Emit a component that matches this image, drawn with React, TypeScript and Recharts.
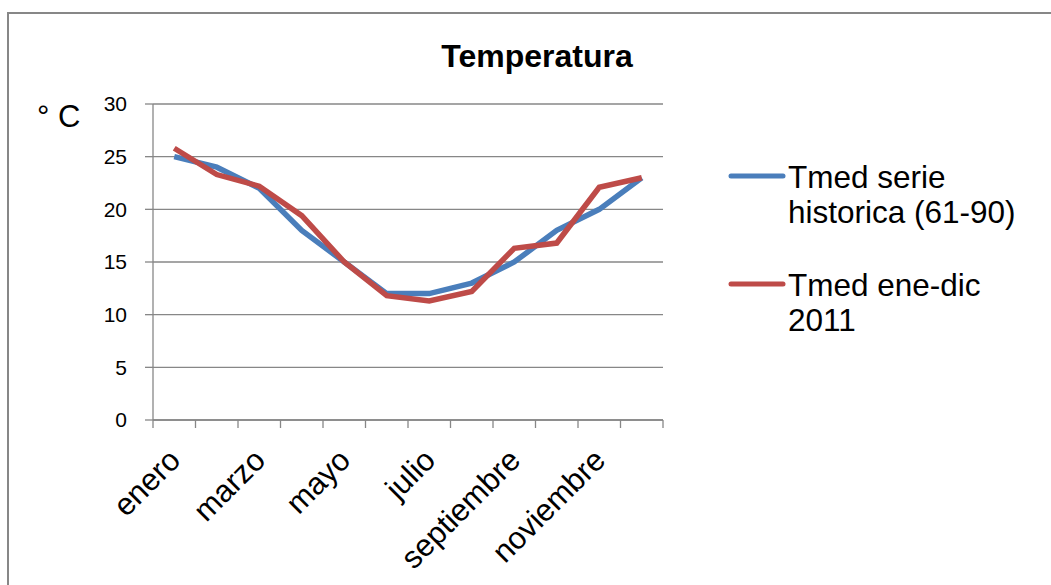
import { CartesianGrid, Legend, Line, LineChart, XAxis, YAxis } from 'recharts';

const months = ['enero', 'febrero', 'marzo', 'abril', 'mayo', 'junio', 'julio', 'agosto', 'septiembre', 'octubre', 'noviembre', 'diciembre'];
const historica = [25, 24, 22, 18, 15, 12, 12, 13, 15, 18, 20, 23];
const anio2011 = [25.8, 23.3, 22.2, 19.4, 15, 11.8, 11.3, 12.2, 16.3, 16.8, 22.1, 23];
const yTicks = [0, 5, 10, 15, 20, 25, 30];

const seriesNames = ['Tmed serie historica (61-90)', 'Tmed ene-dic 2011'];
const colors = ['#4A7EBB', '#BE4B48'];

const data = months.map((m, i) => ({ pos: i + 0.5, month: m, historica: historica[i], anio2011: anio2011[i] }));
// tick marks sit on band edges, labels on band centres
const xTicks = months.flatMap((_, i) => [i, i + 0.5]).concat([months.length]);

const FONT = '"Liberation Sans", Arial, sans-serif';
const GRAY = '#878787';

function XTick(props: any) {
  const { x, y, payload } = props;
  const v = payload.value as number;
  if (Number.isInteger(v)) {
    return <line x1={x} x2={x} y1={y} y2={y + 8} stroke={GRAY} strokeWidth={1.3} />;
  }
  const i = Math.floor(v);
  if (i % 2 !== 0) return null;
  const tx = x + 8;
  const ty = y + 42;
  return (
    <text x={tx} y={ty} transform={`rotate(-45, ${tx}, ${ty})`} textAnchor="end" fontSize={31} fontFamily={FONT} fill="#000">
      {months[i]}
    </text>
  );
}

function LegendBox() {
  const rows = [
    ['Tmed serie', 'historica (61-90)'],
    ['Tmed ene-dic', '2011'],
  ];
  return (
    <div style={{ fontFamily: FONT, fontSize: 31.5, lineHeight: '35px', color: '#000', textAlign: 'left' }}>
      {rows.map((r, i) => (
        <div key={seriesNames[i]} style={{ position: 'relative', paddingLeft: 60, marginBottom: i === 0 ? 38 : 0 }}>
          <svg width={60} height={10} style={{ position: 'absolute', left: 0, top: 11 }}>
            <line x1={3} x2={55} y1={5} y2={5} stroke={colors[i]} strokeWidth={5} strokeLinecap="round" />
          </svg>
          <div>{r[0]}</div>
          <div>{r[1]}</div>
        </div>
      ))}
    </div>
  );
}

export default function App() {
  return (
    <div style={{ position: 'absolute', left: 0, top: 0, width: 1051, height: 585, background: '#fff', overflow: 'hidden' }}>
      <div style={{ position: 'absolute', left: 7, top: 12, width: 1100, height: 700, borderTop: `2px solid ${GRAY}`, borderLeft: `2px solid ${GRAY}` }} />
      <svg width={1051} height={585} style={{ position: 'absolute', left: 0, top: 0 }}>
        <text x={537} y={67} textAnchor="middle" fontSize={32} fontWeight="bold" fontFamily={FONT} fill="#000">
          Temperatura
        </text>
        <text x={37} y={127} fontSize={31} fontFamily={FONT} fill="#000">
          ° C
        </text>
      </svg>
      <div style={{ position: 'absolute', left: 0, top: 0 }}>
        <LineChart width={1051} height={585} data={data} margin={{ top: 104, right: 388, bottom: 15, left: 93 }}>
          <CartesianGrid vertical={false} stroke={GRAY} strokeWidth={1.3} />
          <XAxis
            type="number"
            dataKey="pos"
            domain={[0, months.length]}
            ticks={xTicks}
            interval={0}
            height={150}
            tickSize={0}
            tickMargin={0}
            tickLine={false}
            axisLine={{ stroke: GRAY, strokeWidth: 1.3 }}
            tick={<XTick />}
          />
          <YAxis
            domain={[0, 30]}
            ticks={yTicks}
            width={60}
            tickSize={8}
            tickMargin={18}
            tickLine={{ stroke: GRAY, strokeWidth: 1.3 }}
            axisLine={{ stroke: GRAY, strokeWidth: 1.3 }}
            tick={{ fontSize: 21, fontFamily: FONT, fill: '#000' }}
          />
          <Legend
            layout="horizontal"
            verticalAlign="middle"
            align="center"
            wrapperStyle={{ position: 'absolute', left: 728, top: 160, width: 320 }}
            content={() => <LegendBox />}
          />
          <Line dataKey="historica" name={seriesNames[0]} stroke={colors[0]} strokeWidth={5.5} dot={false} isAnimationActive={false} />
          <Line dataKey="anio2011" name={seriesNames[1]} stroke={colors[1]} strokeWidth={5.5} dot={false} isAnimationActive={false} />
        </LineChart>
      </div>
    </div>
  );
}
